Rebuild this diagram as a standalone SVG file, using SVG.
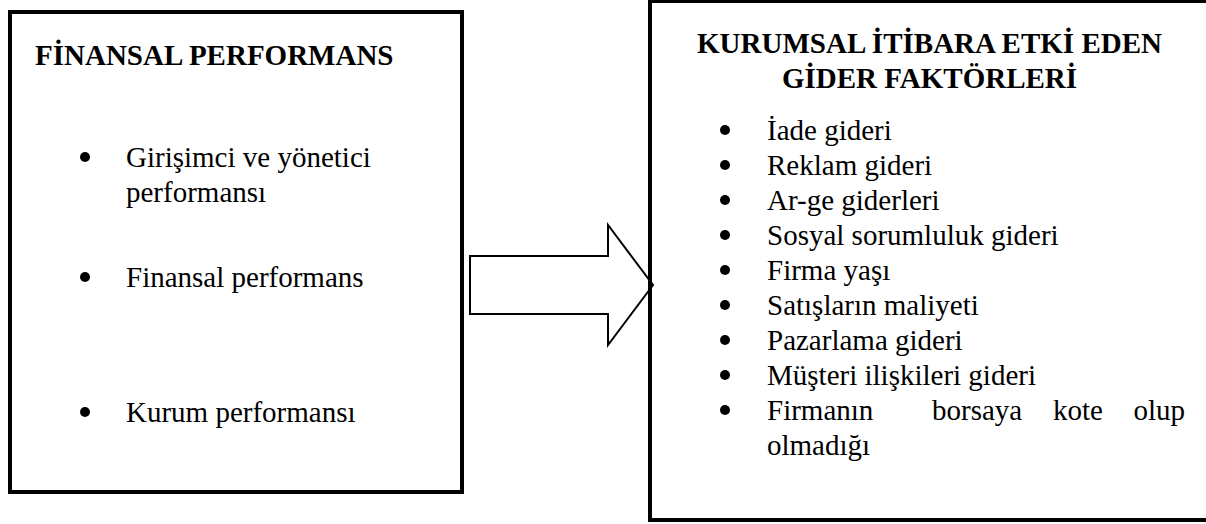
<svg xmlns="http://www.w3.org/2000/svg" width="1206" height="524" viewBox="0 0 1206 524">
  <style>
    .box { fill: none; stroke: #000; stroke-width: 4; }
    .arrow { fill: #fff; stroke: #000; stroke-width: 2; stroke-linejoin: miter; }
    text { font-family: 'Liberation Serif', 'Times New Roman', Times, 'DejaVu Serif', serif; font-size: 29px; fill: #000; }
    .b { font-weight: bold; }
    .dot { fill: #000; }
  </style>
  <rect x="0" y="0" width="1206" height="524" fill="#fff"/>
  <g id="connectors">
    <polygon class="arrow" points="470,256 608,256 608,225 653,285 608,345 608,314 470,314"/>
  </g>
  <g id="node-finansal" font-family="Liberation Serif, serif">
    <rect class="box" x="10" y="12" width="452" height="480"/>
    <text class="b" x="35" y="65">FİNANSAL PERFORMANS</text>
    <circle class="dot" cx="85" cy="157" r="5"/>
    <text x="126" y="167">Girişimci ve yönetici</text>
    <text x="126" y="202">performansı</text>
    <circle class="dot" cx="85" cy="277" r="5"/>
    <text x="126" y="287">Finansal performans</text>
    <circle class="dot" cx="85" cy="412" r="5"/>
    <text x="126" y="422">Kurum performansı</text>
  </g>
  <g id="node-kurumsal" font-family="Liberation Serif, serif">
    <rect class="box" x="650" y="1" width="600" height="519"/>
    <text class="b" x="929.5" y="53" text-anchor="middle">KURUMSAL İTİBARA ETKİ EDEN</text>
    <text class="b" x="929.5" y="88" text-anchor="middle">GİDER FAKTÖRLERİ</text>
    <circle class="dot" cx="725" cy="130" r="5"/>
    <text x="767" y="140">İade gideri</text>
    <circle class="dot" cx="725" cy="165" r="5"/>
    <text x="767" y="175">Reklam gideri</text>
    <circle class="dot" cx="725" cy="200" r="5"/>
    <text x="767" y="210">Ar-ge giderleri</text>
    <circle class="dot" cx="725" cy="235" r="5"/>
    <text x="767" y="245">Sosyal sorumluluk gideri</text>
    <circle class="dot" cx="725" cy="270" r="5"/>
    <text x="767" y="280">Firma yaşı</text>
    <circle class="dot" cx="725" cy="305" r="5"/>
    <text x="767" y="315">Satışların maliyeti</text>
    <circle class="dot" cx="725" cy="340" r="5"/>
    <text x="767" y="350">Pazarlama gideri</text>
    <circle class="dot" cx="725" cy="375" r="5"/>
    <text x="767" y="385">Müşteri ilişkileri gideri</text>
    <circle class="dot" cx="725" cy="410" r="5"/>
    <text x="767" y="420">Firmanın</text>
    <text x="932" y="420">borsaya</text>
    <text x="1053" y="420">kote</text>
    <text x="1185" y="420" text-anchor="end">olup</text>
    <text x="767" y="455">olmadığı</text>
  </g>
</svg>
